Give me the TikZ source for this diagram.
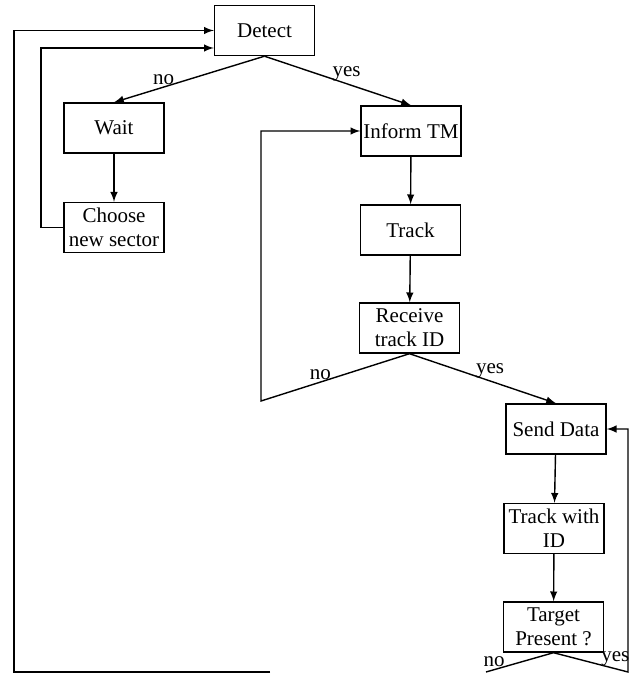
\documentclass[tikz,border=0pt]{standalone}
\usepackage{fontspec}
\setmainfont{Liberation Serif}
\usetikzlibrary{positioning,calc,arrows}

\begin{document}
\begin{tikzpicture}[x=0.5pt,y=-0.5pt,line width=0.7pt,>=latex,
		box/.style={draw,minimum width=50pt,minimum height=25pt,inner sep=1pt,align=center,font=\fontsize{10.5}{12}\selectfont},
		lbl/.style={above,inner sep=1pt,font=\fontsize{10.5}{12}\selectfont}]
		\useasboundingbox (0,0) rectangle (634,673);
		\node[box] (detect) at (264.5,30.5) {Detect};
		\node[box] (wait) at (114,128) {Wait};
		\node[box] (choose) at (114,227.5) {Choose\\new sector};
		\node[box] (inform) at (411,131) {Inform TM};
		\node[box] (track) at (410.5,230) {Track};
		\node[box] (receive) at (409.5,328) {Receive\\track ID};
		\node[box] (send) at (556,429) {Send Data};
		\node[box] (trackid) at (554,528.5) {Track with\\ID};
		\node[box] (target) at (553.5,627) {Target\\Present ?};
		\coordinate (l1) at (41,48);
		\coordinate (r1) at (261,401);
		\coordinate (b0) at (14,672);
		\coordinate (b1) at (270,672);
		\coordinate (b2) at (486,672);
		\coordinate (b3) at (628,672);
		\draw[->] (detect.south) -- node[lbl,pos=0.67] {no} (wait.north);
		\draw[->] (detect.south) -- node[lbl,pos=0.56] {yes} (inform.north);
		\draw[->] (wait) -- (choose);
		\draw[->] (choose.west) -| (l1) -- (l1 -| detect.west);
		\draw[->] (inform) -- (track);
		\draw[->] (track) -- (receive);
		\draw[->] (receive.south) -- node[lbl,pos=0.6] {no} (r1) |- (inform.west);
		\draw[->] (receive.south) -- node[lbl,pos=0.55] {yes} (send.north);
		\draw[->] (send) -- (trackid);
		\draw[->] (trackid) -- (target);
		\draw (target.south) -- node[lbl,pos=0.88] {no} (b2);
		\draw[->] (target.south) -- node[lbl,pos=0.83] {yes} (b3) |- (send.east);
		\draw[->] (b1) -- (b0) |- (detect.west);
	\end{tikzpicture}
\end{document}
